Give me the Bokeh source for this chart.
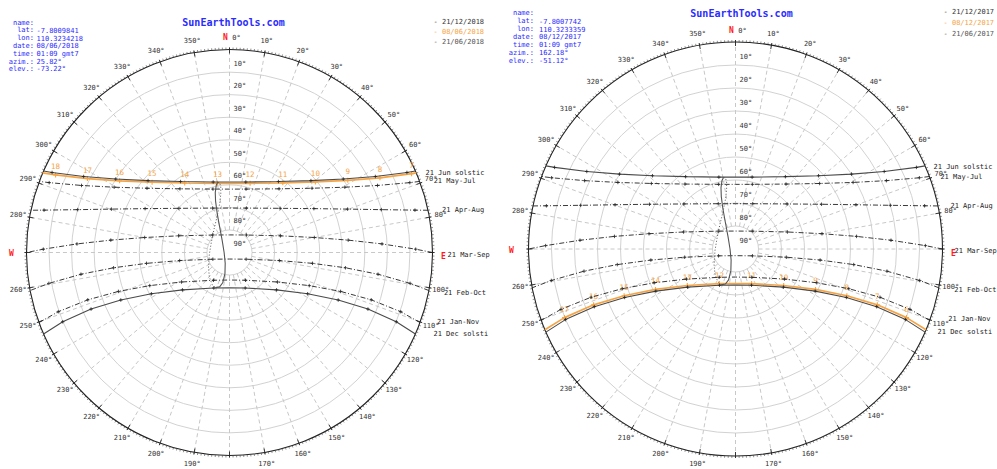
import numpy as np
from bokeh.plotting import figure
from bokeh.layouts import row
from bokeh.models import Range1d
from bokeh.embed import file_html
from bokeh.resources import INLINE
from bokeh.core.properties import value

# ------------------------------------------------------------------ data
path_labels = ["21 Jun  solstic", "21 May-Jul", "21 Apr-Aug", "21 Mar-Sep",
               "21 Feb-Oct", "21 Jan-Nov", "21 Dec  solsti"]

# azimuth (deg clockwise from N) / elevation (deg):
# sunrise, 6 hourly points, noon, 6 hourly points, sunset
jun_az = [66.33, 65.72, 62.47, 57.15, 48.57, 34.59, 13.03, 0.0, 346.97, 325.41, 311.43, 302.85, 297.53, 294.28, 293.67]
jun_el = [0.0, 3.71, 17.09, 29.96, 41.85, 51.80, 57.92, 58.76, 57.92, 51.80, 41.85, 29.96, 17.09, 3.71, 0.0]
may_jul_az = [69.50, 68.82, 65.63, 60.49, 52.08, 37.88, 14.60, 0.0, 345.40, 322.12, 307.92, 299.51, 294.37, 291.18, 290.50]
may_jul_el = [0.0, 4.26, 17.97, 31.24, 43.64, 54.23, 60.95, 61.90, 60.95, 54.23, 43.64, 31.24, 17.97, 4.26, 0.0]
apr_aug_az = [77.99, 77.13, 74.24, 69.83, 62.53, 48.87, 20.82, 0.0, 339.18, 311.13, 297.47, 290.17, 285.76, 282.87, 282.01]
apr_aug_el = [0.0, 5.66, 20.06, 34.21, 47.83, 60.22, 68.93, 70.30, 68.93, 60.22, 47.83, 34.21, 20.06, 5.66, 0.0]
mar_sep_az = [90.0, 88.98, 86.78, 84.05, 79.97, 71.86, 44.13, 0.0, 315.87, 288.14, 280.03, 275.95, 273.22, 271.02, 270.0]
mar_sep_el = [0.0, 7.43, 22.28, 37.09, 51.82, 66.25, 79.20, 82.20, 79.20, 66.25, 51.82, 37.09, 22.28, 7.43, 0.0]
feb_oct_az = [100.80, 99.70, 98.33, 97.51, 97.44, 99.18, 111.97, 180.0, 248.03, 260.82, 262.56, 262.49, 261.67, 260.30, 259.20]
feb_oct_el = [0.0, 8.76, 23.44, 38.16, 52.89, 67.62, 82.05, 87.10, 82.05, 67.62, 52.89, 38.16, 23.44, 8.76, 0.0]
jan_nov_az = [110.19, 109.08, 108.47, 109.31, 112.56, 121.58, 150.00, 180.0, 210.00, 238.42, 247.44, 250.69, 251.53, 250.92, 249.81]
jan_nov_el = [0.0, 9.67, 23.75, 37.82, 51.72, 65.03, 75.80, 77.80, 75.80, 65.03, 51.72, 37.82, 23.75, 9.67, 0.0]
dec_az = [113.67, 112.55, 112.23, 113.61, 117.87, 128.48, 156.13, 180.0, 203.87, 231.52, 242.13, 246.39, 247.77, 247.45, 246.33]
dec_el = [0.0, 9.94, 23.69, 37.40, 50.82, 63.35, 72.78, 74.36, 72.78, 63.35, 50.82, 37.40, 23.69, 9.94, 0.0]

# current day, left chart (08/06/2018)
day1_hours = ["7", "8", "9", "10", "11", "12", "13", "14", "15", "16", "17", "18"]
day1_az = [66.60, 63.59, 58.61, 50.58, 37.42, 16.58, 350.07, 327.20, 312.24, 303.12, 297.49, 294.03]
day1_el = [2.04, 15.53, 28.56, 40.71, 51.12, 57.98, 58.88, 53.34, 43.64, 31.83, 18.98, 5.58]
day1_rise_az, day1_set_az = 66.93, 293.07

# current day, right chart (08/12/2017)
day2_hours = ["6", "7", "8", "9", "10", "11", "12", "13", "14", "15", "16", "17"]
day2_az = [111.86, 111.48, 112.76, 116.82, 127.16, 155.08, 204.92, 232.84, 243.18, 247.24, 248.52, 248.14]
day2_el = [9.89, 23.71, 37.49, 51.02, 63.71, 73.41, 73.41, 63.71, 51.02, 37.49, 23.71, 9.89]
day2_rise_az, day2_set_az = 112.98, 247.02

# analemma (same clock hour all year): Dec-Jun half (solid) and Jun-Dec half (dotted)
ana1_az = [201.88, 196.02, 192.65, 192.09, 201.63, 269.80, 328.90, 339.65, 342.61, 344.84, 346.66, 348.86, 350.49]
ana1_el = [73.21, 74.16, 76.25, 80.38, 84.84, 87.62, 83.71, 77.01, 71.67, 66.38, 62.66, 59.62, 58.45]
ana2_az = [350.49, 351.87, 352.47, 351.50, 348.68, 341.07, 327.88, 299.96, 264.89, 234.14, 219.43, 208.71, 201.88]
ana2_el = [58.45, 58.77, 60.36, 63.91, 67.87, 73.10, 77.29, 80.72, 81.03, 78.50, 75.96, 73.90, 73.21]

elev_ticks = [10, 20, 30, 40, 50, 60, 70, 80, 90]
az_ticks = [10, 20, 30, 40, 50, 60, 70, 80, 100, 110, 120, 130, 140, 150, 160, 170,
            190, 200, 210, 220, 230, 240, 250, 260, 280, 290, 300, 310, 320, 330, 340, 350]

info_keys = ["name:", "lat:", "lon:", "date:", "time:", "azim.:", "elev.:"]
info1_vals = ["", "-7.8009841", "110.3234218", "08/06/2018", "01:09 gmt7", "25.82°", "-73.22°"]
info2_vals = ["", "-7.8007742", "110.3233359", "08/12/2017", "01:09 gmt7", "162.18°", "-51.12°"]
legend1 = ["21/12/2018", "08/06/2018", "21/06/2018"]
legend2 = ["21/12/2017", "08/12/2017", "21/06/2017"]

# ------------------------------------------------------------------ styling
MONO = value("DejaVu Sans Mono")
BLUE = "#2b2bff"
ORANGE = "#f5a445"
RED = "#ff1a1a"
DARK = "#333333"
GRID = "#d2d2d2"
RAD = "#c8c8c8"
DASHDOT = "5 2 1 2"

standard_paths = [
    (jun_az, jun_el, "#4a4a4a", None),
    (may_jul_az, may_jul_el, "#222222", DASHDOT),
    (apr_aug_az, apr_aug_el, "#222222", DASHDOT),
    (mar_sep_az, mar_sep_el, "#222222", DASHDOT),
    (feb_oct_az, feb_oct_el, "#222222", DASHDOT),
    (jan_nov_az, jan_nov_el, "#222222", DASHDOT),
    (dec_az, dec_el, "#4a4a4a", None),
]


def proj(az, el):
    az = np.radians(np.asarray(az, dtype=float))
    r = (90.0 - np.asarray(el, dtype=float)) / 90.0
    return r * np.sin(az), r * np.cos(az)


def panel(W, H, left, cx, cy, R, hours, d_az, d_el, rise, sset, info_vals, legend, geo):
    fx, fy = cx - left, cy
    p = figure(width=W, height=H, output_backend="svg", toolbar_location=None,
               x_range=Range1d(-fx / R, (W - fx) / R), y_range=Range1d(-(H - fy) / R, fy / R),
               min_border=0, x_axis_type=None, y_axis_type=None)
    p.outline_line_color = None
    p.background_fill_color = "white"

    def pix(px, py):
        return (px - cx) / R, (cy - py) / R

    def txt(xs, ys, texts, color, size="7px", align="left", bold=False):
        p.text(x=list(xs), y=list(ys), text=list(texts), text_color=color, text_font=MONO,
               text_font_size=size, text_align=align, text_baseline="middle",
               text_font_style="bold" if bold else "normal")

    # elevation circles
    radii = [(90 - e) / 90 for e in elev_ticks[:-1]]
    p.circle(x=[0] * len(radii), y=[0] * len(radii), radius=radii,
             fill_color=None, line_color=GRID, line_width=1)
    # azimuth radials (dashed)
    a = np.radians(np.arange(0, 360, 10))
    r0 = 1 / 9
    p.segment(x0=r0 * np.sin(a), y0=r0 * np.cos(a), x1=np.sin(a), y1=np.cos(a),
              line_color=RAD, line_width=1, line_dash="4 3")
    # horizon with degree ticks
    p.circle(x=[0], y=[0], radius=[1], fill_color=None, line_color="#222222", line_width=1.1)
    t = np.radians(np.arange(0, 360, 1))
    p.segment(x0=np.sin(t), y0=np.cos(t), x1=(1 + 2.0 / R) * np.sin(t), y1=(1 + 2.0 / R) * np.cos(t),
              line_color="#444444", line_width=0.6)
    t10 = np.radians(np.arange(0, 360, 10))
    p.segment(x0=(1 - 4.0 / R) * np.sin(t10), y0=(1 - 4.0 / R) * np.cos(t10),
              x1=(1 + 2.0 / R) * np.sin(t10), y1=(1 + 2.0 / R) * np.cos(t10),
              line_color="#222222", line_width=0.9)

    # azimuth labels
    la = np.radians(az_ticks)
    rl = 1 + 11.5 / R
    txt(rl * np.sin(la), rl * np.cos(la), [f"{v}°" for v in az_ticks], DARK, align="center")
    txt([7 / R], [rl], ["0°"], DARK, align="center")
    # cardinal points
    txt([-4 / R], [1 + 12 / R], ["N"], RED, size="8px", align="center", bold=True)
    txt([1 + geo["E"] / R], [-4 / R], ["E"], RED, size="8px", align="center", bold=True)
    txt([-(1 + geo["W"] / R)], [-1 / R], ["W"], RED, size="8px", align="center", bold=True)
    # elevation labels
    ey = [(90 - e) / 90 + 8.5 / R for e in elev_ticks]
    txt([4 / R] * len(ey), ey, [f"{e}°" for e in elev_ticks], DARK, align="left")

    # current day path (orange)
    lx, ly = proj([rise] + d_az + [sset], [0.0] + d_el + [0.0])
    p.line(lx, ly, line_color=ORANGE, line_width=1.7)
    mx, my = proj(d_az, d_el)
    p.scatter(mx, my, marker="cross", size=5, line_color=ORANGE, line_width=1.1)
    txt(mx, my + 9 / R, hours, ORANGE, size="7.5px", align="center")

    # standard 21st-of-month paths
    for (az, el, col, dash), lab, dx, dy in zip(standard_paths, path_labels, geo["lab_dx"], geo["lab_dy"]):
        x, y = proj(az, el)
        kw = {} if dash is None else {"line_dash": dash}
        p.line(x, y, line_color=col, line_width=1.1 if dash is None else 0.9, **kw)
        idx = [1, 2, 3, 4, 5, 6, 8, 9, 10, 11, 12, 13]
        p.scatter(x[idx], y[idx], marker="cross", size=3.5, line_color="#222222", line_width=0.8)
        txt([x[0] + dx / R], [y[0] - dy / R], [lab], "#222222", align="left")

    # analemma
    ax1, ay1 = proj(ana1_az, ana1_el)
    p.line(ax1, ay1, line_color="#555555", line_width=1.1)
    ax2, ay2 = proj(ana2_az, ana2_el)
    p.line(ax2, ay2, line_color="#555555", line_width=1, line_dash="1 2")

    # info block
    ix, iy0, idy = geo["info"]
    kx, ky = [], []
    for i in range(len(info_keys)):
        xx, yy = pix(ix, iy0 + i * idy)
        kx.append(xx)
        ky.append(yy)
    txt(kx, ky, info_keys, BLUE, align="right")
    txt([k + geo["gap"] / R for k in kx], ky, info_vals, BLUE, align="left")
    # title
    tx, ty = pix(*geo["title"])
    txt([tx], [ty], ["SunEarthTools.com"], BLUE, size="10px", align="center", bold=True)
    # legend
    gx, gy0, gdy = geo["legend"]
    cols = ["#333333", ORANGE, "#555555"]
    for i, (lab, c) in enumerate(zip(legend, cols)):
        xx, yy = pix(gx, gy0 + i * gdy)
        txt([xx], [yy], ["- " + lab], c, align="left")
    return p


p1 = panel(491, 469, 0, 229, 252, 203, day1_hours, day1_az, day1_el, day1_rise_az, day1_set_az,
           info1_vals, legend1,
           {"E": 11, "W": 15, "info": (33.5, 22, 7.8), "gap": 2.5, "title": (233, 22),
            "legend": (433, 21.7, 10),
            "lab_dx": [10, 14, 14, 15, 15, 17, 18], "lab_dy": [1.5, 0, 0, 2, 2, -1, 0]})
p2 = panel(506, 469, 491, 735, 248.5, 207, day2_hours, day2_az, day2_el, day2_rise_az, day2_set_az,
           info2_vals, legend2,
           {"E": 11, "W": 17, "info": (533.5, 12.7, 7.9), "gap": 5, "title": (741, 13),
            "legend": (943, 11.7, 10.8),
            "lab_dx": [8.4, 11, 12.5, 12, 15.5, 18.5, 12.4], "lab_dy": [1.5, 0, 0, 2, 2, -1, 0]})

layout = row(p1, p2)
open("out.html", "w").write(file_html(layout, INLINE))
